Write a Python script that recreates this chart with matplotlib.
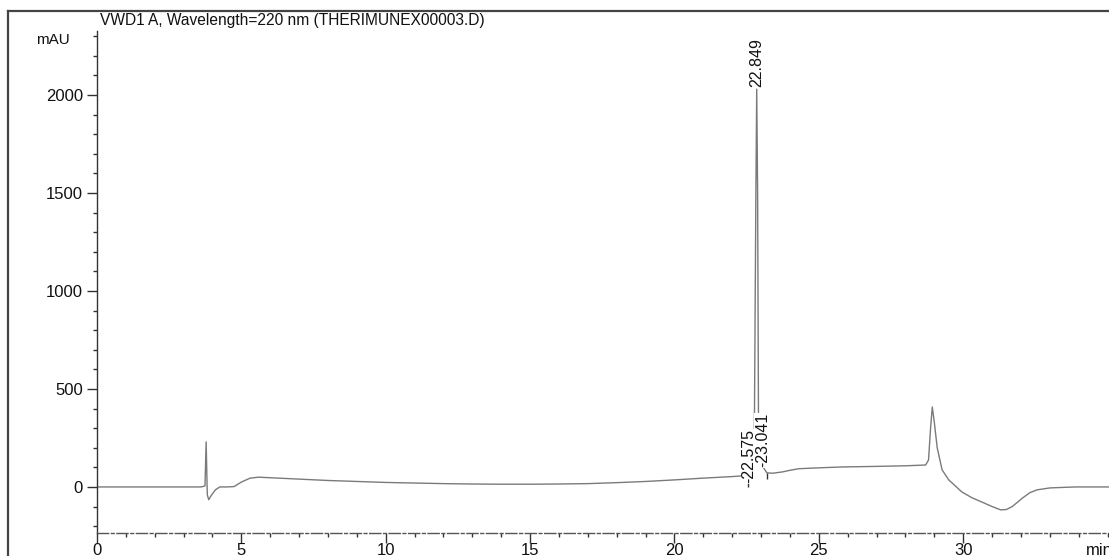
import matplotlib
matplotlib.use("Agg")
import matplotlib.pyplot as plt
from matplotlib.lines import Line2D
from matplotlib.ticker import MultipleLocator, FixedLocator

plt.rcParams['font.family'] = ['Liberation Sans', 'DejaVu Sans']

# ---- data ----
time_min = [0.0, 1.0, 2.0, 3.0, 3.6, 3.74, 3.78, 3.82, 3.87, 3.95, 4.1, 4.25, 4.5, 4.75,
            5.0, 5.3, 5.6, 6.0, 7.0, 8.0, 9.0, 10.0, 11.0, 12.0, 13.0, 14.0, 15.0,
            16.0, 17.0, 18.0, 19.0, 20.0, 21.0, 22.0, 22.4, 22.52, 22.575, 22.62,
            22.70, 22.75, 22.77, 22.82, 22.849, 22.88, 22.91, 22.95, 23.0, 23.041,
            23.1, 23.2, 23.4, 23.75, 24.0, 24.3, 24.9, 25.8, 27.0, 28.0, 28.7, 28.8,
            28.87, 28.93, 29.0, 29.1, 29.27, 29.5, 29.95, 30.3, 30.65, 31.0, 31.3,
            31.5, 31.7, 32.05, 32.3, 32.55, 33.0, 33.5, 33.9, 34.5, 35.05]
absorbance = [0, 0, 0, 0, 0, 5, 230, -40, -65, -45, -15, 0, 0, 2,
              25, 45, 50, 47, 40, 33, 28, 23, 20, 17, 15, 14, 14,
              15, 17, 22, 28, 36, 45, 53, 57, 58, 62, 58,
              65, 120, 350, 1500, 2030, 1500, 350, 180, 140, 128,
              95, 72, 70, 77, 85, 93, 97, 102, 105, 108, 112, 138,
              300, 408, 330, 200, 87, 36, -25, -55, -77, -100, -117,
              -115, -100, -57, -30, -15, -5, -2, 0, 0, 0]

peak_rt = [22.575, 22.849, 23.041]
peak_label = ['-22.575', '22.849', '-23.041']
label_base = [18, 2040, 100]

integ_marks_t = [22.56, 23.22]
integ_marks_lo = [0, 40]
integ_marks_hi = [60, 70]

x_major = [0, 5, 10, 15, 20, 25, 30]

title = 'VWD1 A, Wavelength=220 nm (THERIMUNEX00003.D)'

W, H = 1109, 556
fig = plt.figure(figsize=(W / 100, H / 100), dpi=100)
ax = fig.add_axes([97 / W, (H - 533) / H, (W - 97) / W, (533 - 31) / H])

ax.plot(time_min, absorbance, color='#7a7a7a', lw=1.0)
ax.vlines(integ_marks_t, integ_marks_lo, integ_marks_hi, color='#333333', lw=1.0)

for rt, lab, base in zip(peak_rt, peak_label, label_base):
    ax.text(rt, base, lab, rotation=90, ha='center', va='bottom', fontsize=11.5,
            color='#111111',
            bbox=dict(facecolor='white', edgecolor='none', pad=0.2))

ax.set_xlim(0, 35.05)
ax.set_ylim(-235, 2327)
ax.xaxis.set_major_locator(FixedLocator(x_major))
ax.xaxis.set_minor_locator(MultipleLocator(1))
ax.yaxis.set_major_locator(MultipleLocator(500))
ax.yaxis.set_minor_locator(MultipleLocator(100))

for s in ['top', 'right']:
    ax.spines[s].set_visible(False)
ax.spines['left'].set_color('#333333')
ax.spines['left'].set_linewidth(1.0)
ax.spines['bottom'].set_color('#555555')
ax.spines['bottom'].set_linewidth(1.0)
ax.spines['bottom'].set_linestyle((0, (8, 2, 2, 2)))

ax.tick_params(axis='both', which='major', direction='out', length=7.2, width=1.0,
               color='#333333', labelsize=12, labelcolor='#111111')
ax.tick_params(axis='both', which='minor', direction='out', length=2.9, width=1.0,
               color='#333333')
ax.tick_params(axis='x', which='major', pad=0.3)
ax.tick_params(axis='y', which='major', pad=2.9)

# outer frame lines
fig.add_artist(Line2D([8 / W, 1.0], [1 - 11 / H, 1 - 11 / H],
                      transform=fig.transFigure, color='#444444', lw=1.6))
fig.add_artist(Line2D([8 / W, 8 / W], [0.0, 1 - 11 / H],
                      transform=fig.transFigure, color='#444444', lw=1.6))

fig.text(100 / W, 1 - 13 / H, title, ha='left', va='top', fontsize=11.2, color='#111111')
fig.text(36 / W, 1 - 40 / H, 'mAU', ha='left', va='center', fontsize=11, color='#111111')
fig.text(1086 / W, 1 - 543 / H, 'min', ha='left', va='top', fontsize=12, color='#111111')

fig.savefig('out.png', dpi=100, facecolor='white')
